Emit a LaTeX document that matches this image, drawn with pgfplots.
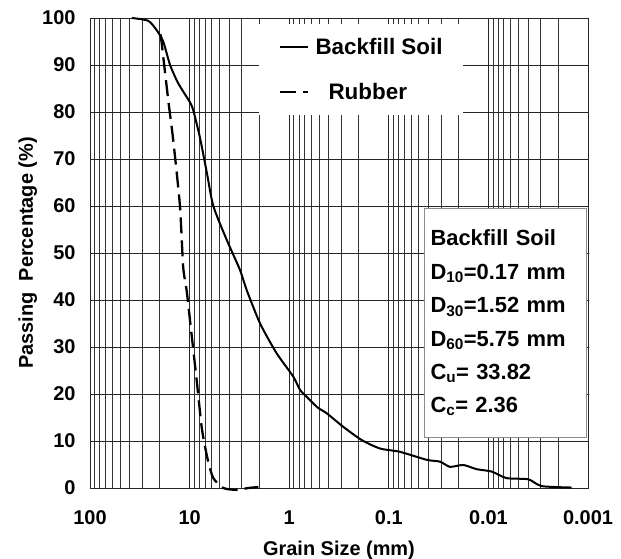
\documentclass[border=0pt]{standalone}
\usepackage{pgfplots}
\pgfplotsset{compat=1.18}
\usepackage{fontspec}
\setmainfont{Liberation Sans}

\begin{document}
\begin{tikzpicture}
\path[use as bounding box] (-90bp,-71bp) rectangle (531bp,488bp);
\begin{axis}[
    at={(0bp,0bp)}, anchor=south west,
    width=498bp, height=470bp, scale only axis,
    xmode=log, x dir=reverse,
    xmin=0.001, xmax=100,
    ymin=0, ymax=100,
    xtick={100,10,1,0.1,0.01,0.001},
    xticklabels={100,10,1,0.1,0.01,0.001},
    minor xtick={0.002,0.003,0.004,0.005,0.006,0.007,0.008,0.009,
                 0.02,0.03,0.04,0.05,0.06,0.07,0.08,0.09,
                 0.2,0.3,0.4,0.5,0.6,0.7,0.8,0.9,
                 2,3,4,5,6,7,8,9,
                 20,30,40,50,60,70,80,90},
    ytick={0,10,...,100},
    grid=both,
    major grid style={black!85, line width=0.7bp},
    minor grid style={black!80, line width=0.7bp},
    major tick length=0pt, minor tick length=0pt,
    axis line style={black!85, line width=0.9bp},
    /pgf/number format/assume math mode=true,
    tick label style={font=\fontsize{20}{22}\selectfont\bfseries},
    xticklabel style={yshift=-19bp},
    yticklabel style={xshift=-11bp},
    xlabel={Grain Size (mm)},
    ylabel={Passing\ \ Percentage (\%)},
    label style={font=\fontsize{20}{22}\selectfont\bfseries},
    xlabel style={at={(axis description cs:0.5,-0.1426)}, anchor=base},
    ylabel style={at={(axis description cs:-0.1145,0.5)}, anchor=base},
    clip=false,
    legend style={at={(axis description cs:0.3394,0.987)}, anchor=north west,
        draw=none, fill=white, inner xsep=20bp, inner ysep=15.5bp,
        row sep=30bp, column sep=6bp,
        font=\fontsize{22.5}{24}\selectfont\bfseries,
        nodes={inner sep=0pt, text height=15bp, text depth=0pt}},
    legend cell align=left,
    legend image code/.code={\draw[#1] (0bp,0bp) -- (28bp,0bp);},
]
\addplot[black, line width=2bp, smooth, tension=0.4] coordinates {
    (38,100) (26,99.4) (21.4,97.4) (18.4,95) (15.7,90) (13,86.1)
    (10,82.2) (9.2,80.4) (7.9,74.7) (6.7,67) (5.78,60) (4.24,52.8)
    (3.12,46.4) (2.67,42.1) (1.96,35) (1.34,28.7) (0.91,23.7)
    (0.78,20.9) (0.667,19.4) (0.573,18) (0.51,17) (0.42,15.9)
    (0.286,13) (0.187,10.2) (0.1225,8.4) (0.0773,7.7) (0.0417,6)
    (0.0306,5.6) (0.0243,4.5) (0.0179,4.9) (0.0131,4) (0.00927,3.5)
    (0.00656,2.1) (0.00398,1.85) (0.00292,0.4) (0.00146,0.1)
};
\addlegendentry{Backfill Soil}
\addplot[black, line width=2.3bp, dash pattern=on 16bp off 7bp, smooth, tension=0.4] coordinates {
    (19.5,96.5) (16.4,82.6) (14.6,74) (12.5,60) (11.6,47) (10.7,42)
    (9.5,32.2) (8.5,23) (7.57,13) (7.0,8.8) (6.5,5.6) (5.78,2.1)
    (4.59,0) (3.37,-0.4) (2.57,0) (2.04,0.2)
};
\addlegendentry{\hspace{13bp}Rubber}
\node[anchor=north west, draw=black!45, line width=1bp, fill=white,
      minimum width=162bp, minimum height=229bp,
      text width=150bp, inner xsep=6bp, align=left,
      font=\fontsize{22}{33.5}\selectfont\bfseries]
  at (axis description cs:0.6707,0.5957)
  {Backfill Soil\\
   D\textsubscript{10}=0.17 mm\\
   D\textsubscript{30}=1.52 mm\\
   D\textsubscript{60}=5.75 mm\\
   C\textsubscript{u}= 33.82\\
   C\textsubscript{c}= 2.36};
\end{axis}
\end{tikzpicture}
\end{document}
